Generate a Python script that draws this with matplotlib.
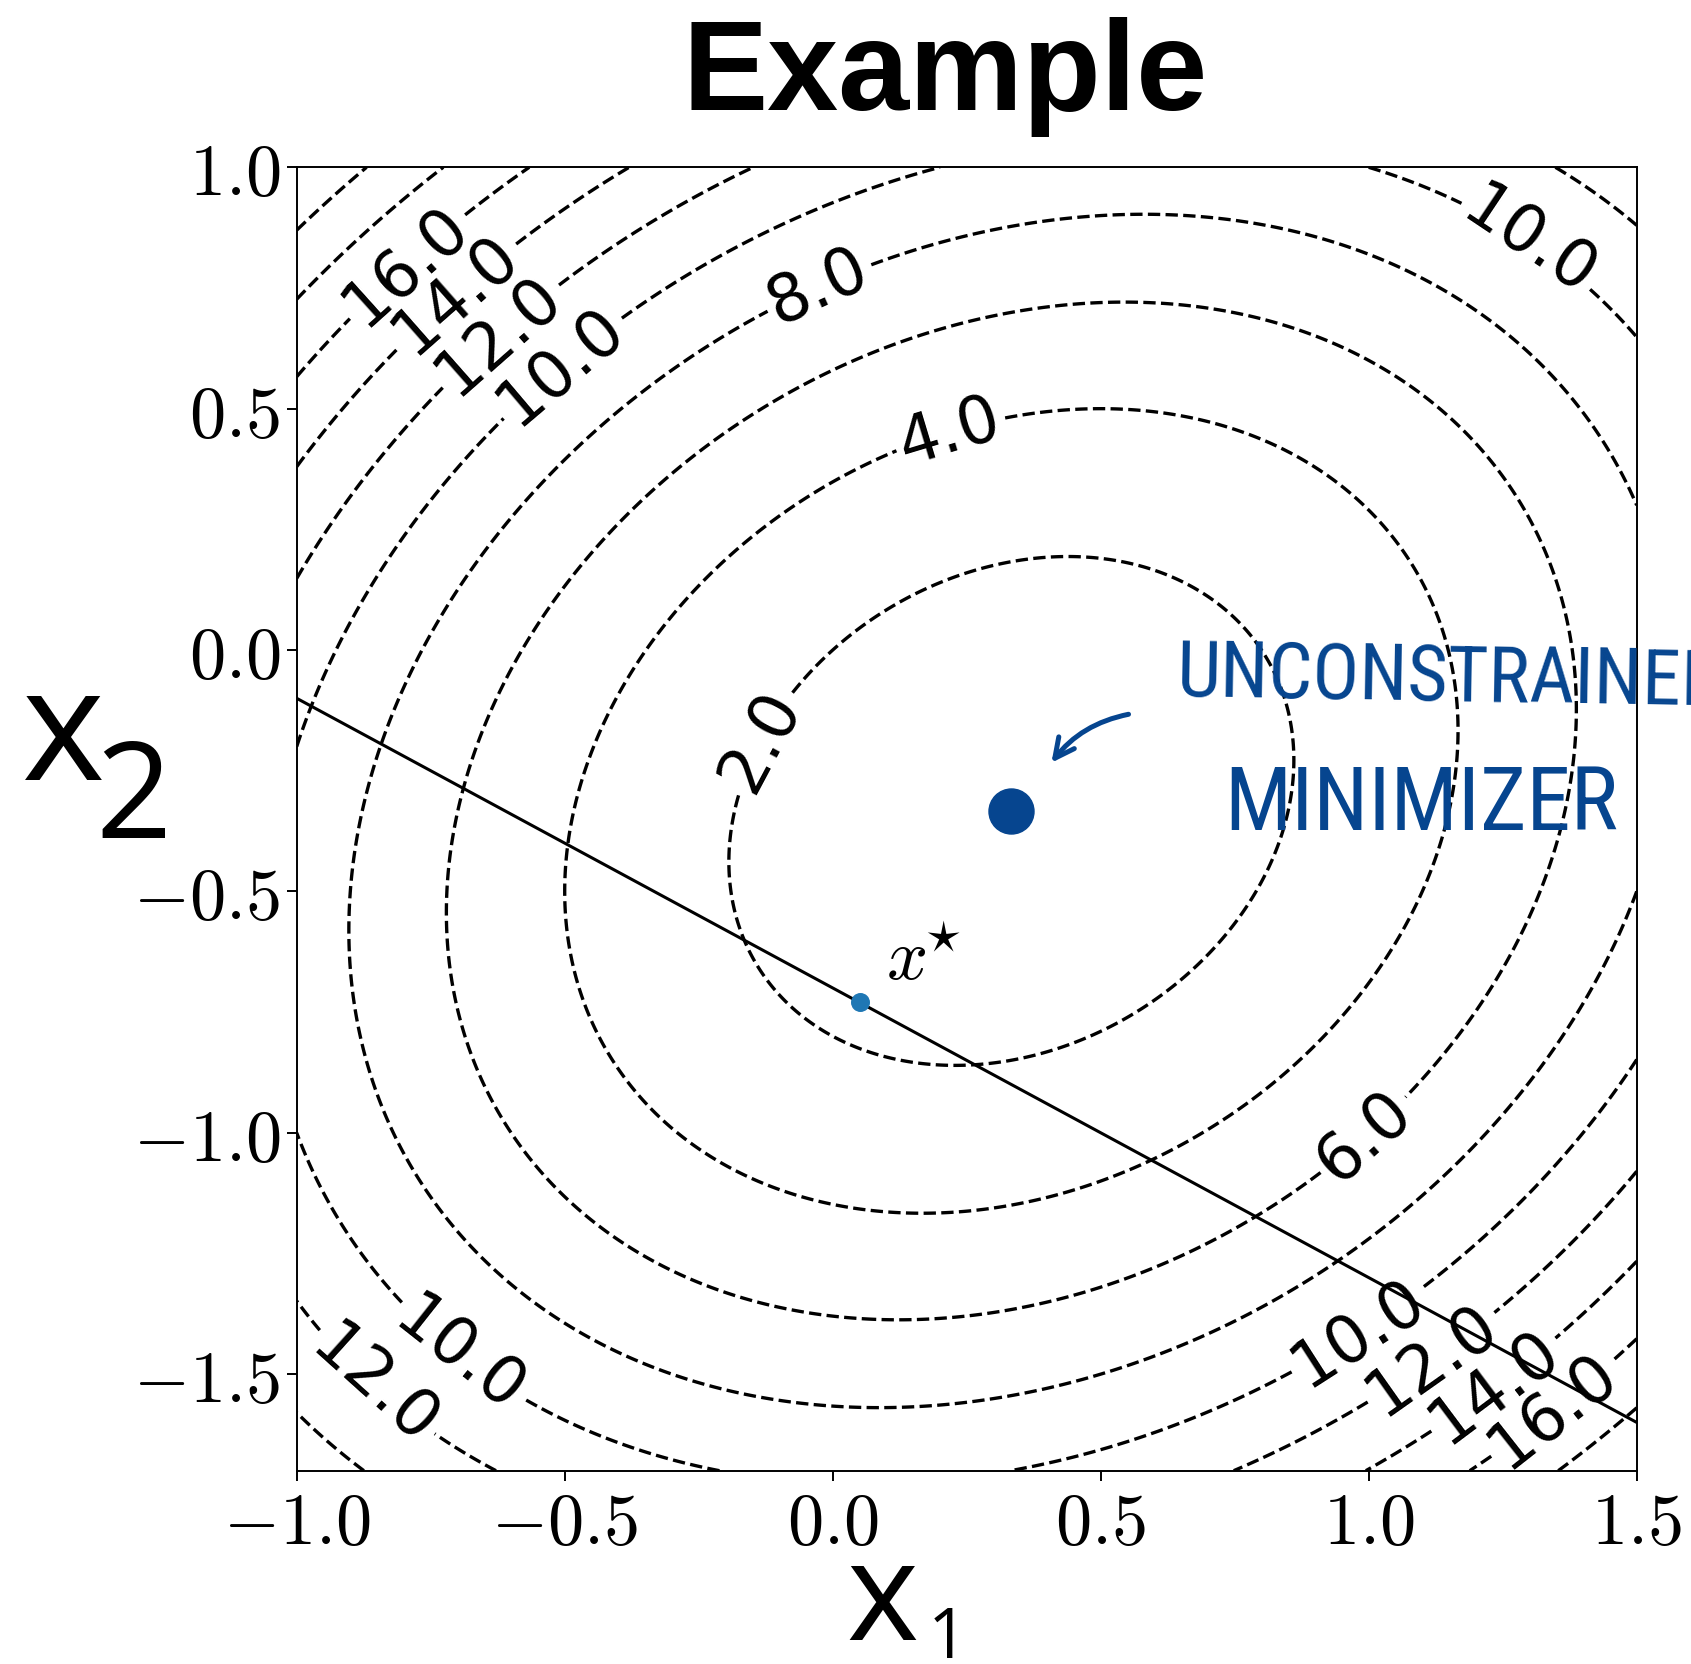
import numpy as np
import matplotlib
matplotlib.use("Agg")
import matplotlib.pyplot as plt
from matplotlib.ticker import FixedLocator, FixedFormatter

plt.rcParams['mathtext.fontset'] = 'cm'

# ---- data ----
# quadratic objective f(x) = a11 x1^2 + 2 a12 x1 x2 + a22 x2^2 + b1 x1 + b2 x2 + c
a11, a12, a22 = 5.0, -1.0, 5.0
b1, b2 = -4.0, 4.0
c0 = 2.0
levels = [2, 4, 6, 8, 10, 12, 14, 16, 18, 20]
# constraint line x2 = slope * x1 + intercept
line_slope = -0.6
line_intercept = -0.7
x_star = (0.05, -0.73)
x_lim = (-1.0, 1.5)
y_lim = (-1.7, 1.0)
xtick_vals = [-1.0, -0.5, 0.0, 0.5, 1.0, 1.5]
xtick_labels = [r'$-1.0$', r'$-0.5$', r'$0.0$', r'$0.5$', r'$1.0$', r'$1.5$']
ytick_vals = [-1.5, -1.0, -0.5, 0.0, 0.5, 1.0]
ytick_labels = [r'$-1.5$', r'$-1.0$', r'$-0.5$', r'$0.0$', r'$0.5$', r'$1.0$']
label_spots = [(-0.799, 0.801), (-0.6985, 0.734), (-0.624, 0.656), (-0.507, 0.588),
               (-0.030, 0.763), (1.299, 0.846), (0.217, 0.459), (-0.131, -0.188),
               (0.986, -1.0), (0.977, -1.407), (1.122, -1.474), (1.243, -1.537),
               (1.334, -1.559), (-0.688, -1.447), (-0.839, -1.503)]

BLUE = '#06458f'

fig = plt.figure(figsize=(16.91, 16.65), dpi=100)
ax = fig.add_axes([0.17546, 0.11610, 0.79243, 0.78282])

x1 = np.linspace(x_lim[0], x_lim[1], 500)
x2 = np.linspace(y_lim[0], y_lim[1], 500)
X1, X2 = np.meshgrid(x1, x2)
F = a11 * X1**2 + 2 * a12 * X1 * X2 + a22 * X2**2 + b1 * X1 + b2 * X2 + c0

cs = ax.contour(X1, X2, F, levels=levels, colors='k', linestyles='dashed',
                linewidths=2.4)
ax.clabel(cs, fmt='%.1f', fontsize=47, inline=True, manual=label_spots)

lx = np.array(x_lim)
ax.plot(lx, line_slope * lx + line_intercept, color='k', lw=2.2)

ax.scatter([x_star[0]], [x_star[1]], s=160, color='#1f77b4', zorder=5)
ax.text(x_star[0] + 0.05, x_star[1] + 0.05, r'$x^{\!\!\star}$', fontsize=52)

# unconstrained minimizer
A = np.array([[a11, a12], [a12, a22]])
xmin = np.linalg.solve(2 * A, -np.array([b1, b2]))
ax.scatter([xmin[0]], [xmin[1]], s=1050, color=BLUE, zorder=6)
ax.annotate('', xy=(0.405, -0.238), xytext=(0.557, -0.132),
            arrowprops=dict(arrowstyle='->', color=BLUE, lw=3.6,
                            connectionstyle='arc3,rad=0.2', mutation_scale=35))

ax.set_xlim(*x_lim)
ax.set_ylim(*y_lim)
ax.xaxis.set_major_locator(FixedLocator(xtick_vals))
ax.xaxis.set_major_formatter(FixedFormatter(xtick_labels))
ax.yaxis.set_major_locator(FixedLocator(ytick_vals))
ax.yaxis.set_major_formatter(FixedFormatter(ytick_labels))
ax.tick_params(axis='both', labelsize=52, length=7, width=1.4)
ax.tick_params(axis='x', pad=6)
ax.tick_params(axis='y', pad=5)
for sp in ax.spines.values():
    sp.set_linewidth(1.4)

fig.text(0.5588, 0.9339, 'Example', fontsize=92, fontweight='bold',
         family=['Liberation Sans', 'DejaVu Sans'], ha='center', va='baseline')

hand = ['Open Sans', 'DejaVu Sans']
# handwritten axis labels
fig.text(0.0373, 0.5315, 'x', fontsize=114, family=hand, ha='center', va='baseline')
fig.text(0.0790, 0.4967, '2', fontsize=96, family=hand, ha='center', va='baseline')
fig.text(0.5216, 0.0150, 'x', fontsize=99, family=hand, ha='center', va='baseline')
fig.text(0.5603, 0.0040, '1', fontsize=50, family=hand, ha='center', va='baseline')

narrow = ['Roboto Condensed', 'Liberation Sans Narrow', 'DejaVu Sans']
fig.text(0.6954, 0.576, 'UNCONSTRAINED', fontsize=56, color=BLUE, family=narrow,
         fontstretch='condensed', ha='left', va='baseline', rotation=-1)
fig.text(0.7238, 0.5015, 'MINIMIZER', fontsize=64, color=BLUE, family=narrow,
         fontstretch='condensed', ha='left', va='baseline')

fig.savefig('out.png', dpi=100)
